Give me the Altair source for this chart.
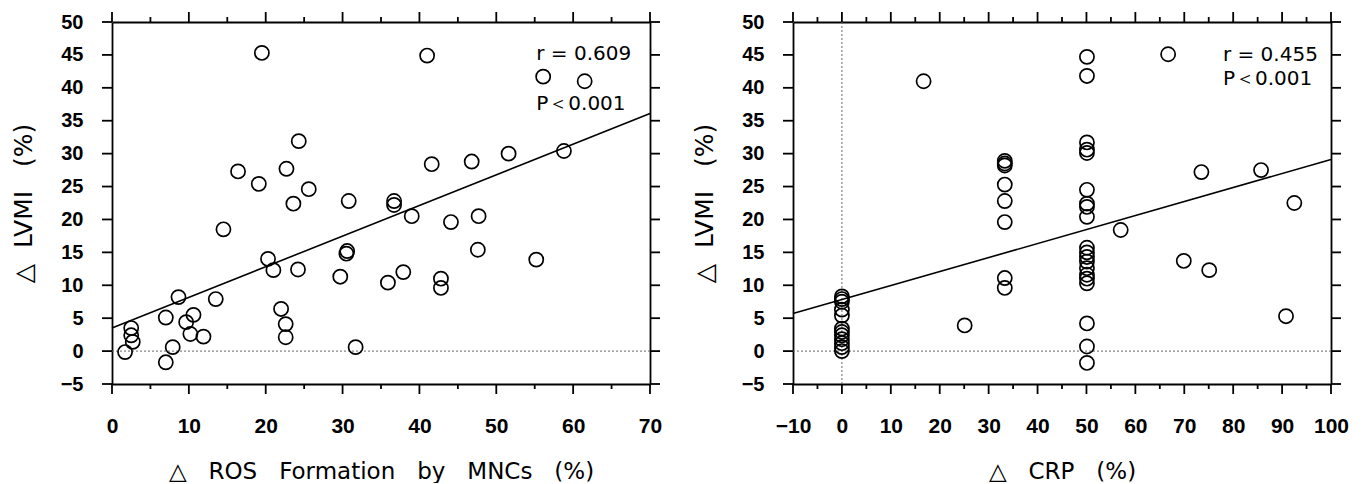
import altair as alt
import pandas as pd

# ---------------- data ----------------
ros_x = [19.5, 41.0, 56.1, 61.5, 58.8, 51.6, 46.8, 41.6, 24.3, 16.4,
         22.7, 19.1, 25.6, 23.6, 30.8, 36.7, 36.7, 39.0, 44.1, 47.7,
         14.5, 47.6, 30.6, 30.5, 55.2, 20.3, 21.0, 24.2, 29.7, 37.9,
         35.9, 42.8, 42.8, 8.65, 13.5, 7.0, 10.6, 9.65, 22.0, 22.6,
         22.6, 10.2, 11.9, 7.9, 2.5, 2.5, 2.7, 1.7, 7.0, 31.7]
ros_y = [45.3, 44.9, 41.7, 41.0, 30.4, 30.0, 28.8, 28.4, 31.9, 27.3,
         27.7, 25.4, 24.6, 22.4, 22.8, 22.8, 22.2, 20.5, 19.6, 20.5,
         18.5, 15.4, 15.2, 14.8, 13.9, 14.0, 12.3, 12.4, 11.3, 12.0,
         10.4, 11.0, 9.6, 8.2, 7.9, 5.1, 5.5, 4.4, 6.4, 4.1,
         2.1, 2.6, 2.2, 0.6, 3.5, 2.4, 1.4, -0.15, -1.7, 0.6]
ros_fit_x = [0, 70]
ros_fit_y = [3.5, 36.1]
ros_major_ticks = [0, 10, 20, 30, 40, 50, 60, 70]
ros_minor_ticks = [5, 15, 25, 35, 45, 55, 65]

crp_x = ([0] * 12 + [16.7, 25.1] + [33.3] * 8 + [50.1] * 20
         + [57.0, 66.7, 69.9, 73.5, 75.1, 85.7, 90.8, 92.5])
crp_y = ([8.3, 7.9, 7.5, 6.3, 5.4, 3.4, 2.9, 2.4, 1.8, 1.2, 0.6, 0.0]
         + [41.0, 3.9]
         + [28.9, 28.5, 28.2, 25.3, 22.8, 19.6, 11.1, 9.6]
         + [44.7, 41.8, 31.7, 30.6, 30.1, 24.5, 22.4, 21.9, 20.4, 15.7,
            15.0, 14.3, 13.6, 12.6, 11.6, 11.0, 10.3, 4.2, 0.7, -1.8]
         + [18.4, 45.1, 13.7, 27.2, 12.3, 27.5, 5.3, 22.5])
crp_fit_x = [-10, 100]
crp_fit_y = [5.7, 29.1]
crp_major_ticks = [-10, 0, 10, 20, 30, 40, 50, 60, 70, 80, 90, 100]
crp_minor_ticks = [-5, 5, 15, 25, 35, 45, 55, 65, 75, 85, 95]

y_domain = [-5, 50]
y_ticks = [-5, 0, 5, 10, 15, 20, 25, 30, 35, 40, 45, 50]
zero_line = [0]

ros_ann_x = [55.2, 55.2]
ros_ann_y = [45.1, 37.5]
crp_ann_x = [77.9, 77.9]
crp_ann_y = [45.0, 41.4]
ros_ann_text = ["r = 0.609", "P\uff1c0.001"]
crp_ann_text = ["r = 0.455", "P\uff1c0.001"]

NB = "\u00a0"
ros_title = f"\u25b3{NB}{NB} ROS{NB}{NB} Formation{NB}{NB} by{NB}{NB} MNCs{NB}{NB} (%)"
crp_title = f"\u25b3{NB}{NB} CRP{NB}{NB} (%)"
y_title = f"\u25b3{NB} LVMI{NB}{NB} (%)"

W, H = 538, 362
TITLE_FONT = "DejaVu Sans"
LABEL_FONT = "Liberation Sans"
MAJOR, MINOR = 10, 5
LINE_W = 1.8


def tick_layer(vals, scale, channel, side, length):
    df = pd.DataFrame({"v": vals})
    base = alt.Chart(df).mark_rule(color="black", strokeWidth=LINE_W)
    if channel == "x":
        enc = {"x": alt.X("v:Q", scale=scale, axis=None)}
        if side == "bottom":
            enc.update(y=alt.value(H), y2=alt.value(H + length))
        else:
            enc.update(y=alt.value(0), y2=alt.value(-length))
    else:
        enc = {"y": alt.Y("v:Q", scale=scale, axis=None)}
        if side == "left":
            enc.update(x=alt.value(0), x2=alt.value(-length))
        else:
            enc.update(x=alt.value(W), x2=alt.value(W + length))
    return base.encode(**enc)


def panel(xv, yv, fx, fy, xdom, major, minor, xtitle, ax, ay, atext, vertical_zero):
    pts = pd.DataFrame({"x": xv, "y": yv})
    fit = pd.DataFrame({"x": fx, "y": fy})
    ann = pd.DataFrame({"x": ax, "y": ay, "t": atext})
    xscale = alt.Scale(domain=xdom, nice=False, zero=False)
    yscale = alt.Scale(domain=y_domain, nice=False, zero=False)

    x_bottom = alt.Axis(orient="bottom", values=major, ticks=False,
                        labelPadding=31, titlePadding=24, labelFlush=False,
                        labelOverlap=False, grid=False, title=xtitle,
                        titleFontSize=23)
    x_top = alt.Axis(orient="top", values=major, ticks=False, labels=False,
                     grid=False, title=None)
    y_left = alt.Axis(orient="left", values=y_ticks, ticks=False, labelPadding=29,
                      titlePadding=24, labelFlush=False, labelOverlap=False,
                      grid=False, title=y_title, titleFontSize=25)
    y_right = alt.Axis(orient="right", values=y_ticks, ticks=False, labels=False,
                       grid=False, title=None)

    layers = []
    hz = alt.Chart(pd.DataFrame({"y": zero_line})).mark_rule(
        color="#666", strokeWidth=1, strokeDash=[2, 2]
    ).encode(y=alt.Y("y:Q", scale=yscale, axis=None))
    layers.append(hz)
    if vertical_zero:
        vz = alt.Chart(pd.DataFrame({"x": zero_line})).mark_rule(
            color="#666", strokeWidth=1, strokeDash=[2, 2]
        ).encode(x=alt.X("x:Q", scale=xscale, axis=None))
        layers.append(vz)

    layers += [
        tick_layer(major, xscale, "x", "bottom", MAJOR),
        tick_layer(minor, xscale, "x", "bottom", MINOR),
        tick_layer(major, xscale, "x", "top", MAJOR),
        tick_layer(minor, xscale, "x", "top", MINOR),
        tick_layer(y_ticks, yscale, "y", "left", MAJOR),
        tick_layer(y_ticks, yscale, "y", "right", MAJOR),
    ]

    points = alt.Chart(pts).mark_point(
        shape="circle", filled=False, size=200, strokeWidth=1.7,
        color="black", opacity=1
    ).encode(
        x=alt.X("x:Q", scale=xscale, axis=x_bottom),
        y=alt.Y("y:Q", scale=yscale, axis=y_left),
    )
    line = alt.Chart(fit).mark_line(color="black", strokeWidth=1.6).encode(
        x=alt.X("x:Q", scale=xscale, axis=x_top),
        y=alt.Y("y:Q", scale=yscale, axis=y_right),
    )
    text = alt.Chart(ann).mark_text(
        align="left", baseline="middle", font=TITLE_FONT, fontSize=20, color="black"
    ).encode(
        x=alt.X("x:Q", scale=xscale, axis=None),
        y=alt.Y("y:Q", scale=yscale, axis=None),
        text="t:N",
    )
    layers += [points, line, text]
    return alt.layer(*layers).properties(width=W, height=H)


left = panel(ros_x, ros_y, ros_fit_x, ros_fit_y, [0, 70], ros_major_ticks,
             ros_minor_ticks, ros_title, ros_ann_x, ros_ann_y, ros_ann_text, False)
right = panel(crp_x, crp_y, crp_fit_x, crp_fit_y, [-10, 100], crp_major_ticks,
              crp_minor_ticks, crp_title, crp_ann_x, crp_ann_y, crp_ann_text, True)

chart = alt.hconcat(left, right, spacing=30).properties(
    padding={"left": 3, "top": 3, "right": 5, "bottom": 0},
    background="white",
).configure_view(stroke=None).configure_axis(
    domainColor="black", domainWidth=LINE_W,
    labelFont=LABEL_FONT, labelFontWeight="bold", labelColor="black",
    titleFont=TITLE_FONT, titleFontWeight="normal", titleColor="black",
).configure_axisX(labelFontSize=21).configure_axisY(labelFontSize=20)

chart.save("out.html", embed_options={"renderer": "svg", "actions": False})
